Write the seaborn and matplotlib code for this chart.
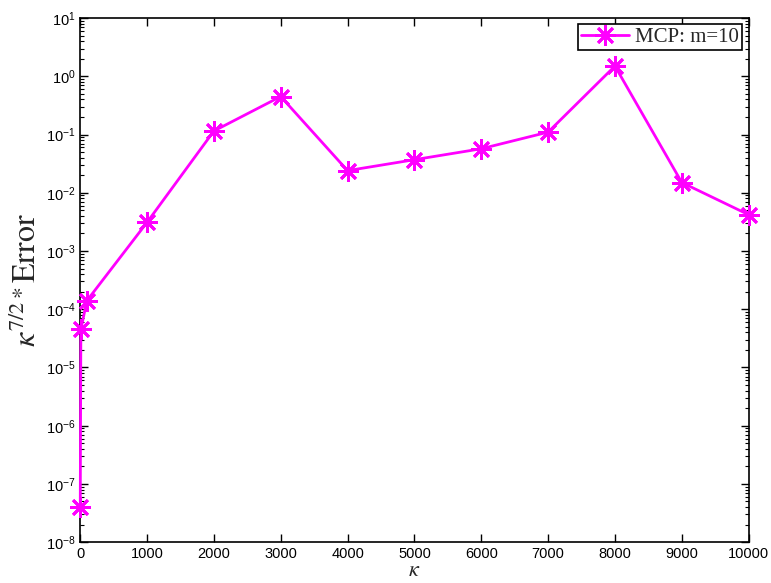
import matplotlib
matplotlib.use("Agg")
import matplotlib.pyplot as plt
import matplotlib.ticker as mticker
import seaborn as sns
import numpy as np

# values
kappa = [1, 10, 100, 1000, 2000, 3000, 4000, 5000, 6000, 7000, 8000, 9000, 10000]
error = [4e-8, 4.5e-5, 1.4e-4, 3.1e-3, 0.115, 0.45, 0.024, 0.037, 0.057, 0.11, 1.5, 0.015, 0.0042]
xticks = [0, 1000, 2000, 3000, 4000, 5000, 6000, 7000, 8000, 9000, 10000]

sns.set_style("ticks")
plt.rcParams['font.family'] = ['Liberation Sans', 'DejaVu Sans']
plt.rcParams['mathtext.fontset'] = 'stix'

fig = plt.figure(figsize=(7.71, 5.83), dpi=100)
ax = fig.add_axes([0.104, 0.070, 0.867, 0.899])

sns.lineplot(x=kappa, y=error, ax=ax, color='#ff00ff', linewidth=2,
             marker=(8, 2, 0), markersize=15, markeredgewidth=2,
             markeredgecolor='#ff00ff', label='MCP: m=10', clip_on=False)

ax.set_yscale('log')
ax.set_xlim(0, 10000)
ax.set_ylim(1e-8, 1e1)
ax.set_xticks(xticks)
ax.set_xticklabels([str(t) for t in xticks])
ax.yaxis.set_major_locator(mticker.LogLocator(base=10, numticks=20))
ax.yaxis.set_minor_locator(mticker.LogLocator(base=10, subs=np.arange(2, 10), numticks=20))
ax.yaxis.set_minor_formatter(mticker.NullFormatter())

ax.tick_params(axis='both', which='both', direction='in', top=True, right=True,
               labelsize=10.5, colors='black')
ax.tick_params(which='major', length=6, width=1)
ax.tick_params(which='minor', length=3, width=0.8)
ax.tick_params(axis='x', which='minor', top=False, bottom=False)
for s in ax.spines.values():
    s.set_color('black')
    s.set_linewidth(1.2)
    s.set_zorder(1)

ax.set_xlabel(r'$\kappa$', fontsize=16, labelpad=-1)
ax.set_ylabel(r'$\kappa^{7/2\ast}\mathrm{Error}$', fontsize=23, labelpad=2)

leg = ax.legend(loc='upper right', frameon=True, fancybox=False, borderaxespad=0.3,
                prop={'family': 'Liberation Serif', 'size': 15}, handlelength=2.3,
                borderpad=0.15, handletextpad=0.3)
leg.get_frame().set_edgecolor('black')
leg.get_frame().set_linewidth(1.2)
leg.get_frame().set_alpha(1)

fig.savefig('out.png', dpi=100)
